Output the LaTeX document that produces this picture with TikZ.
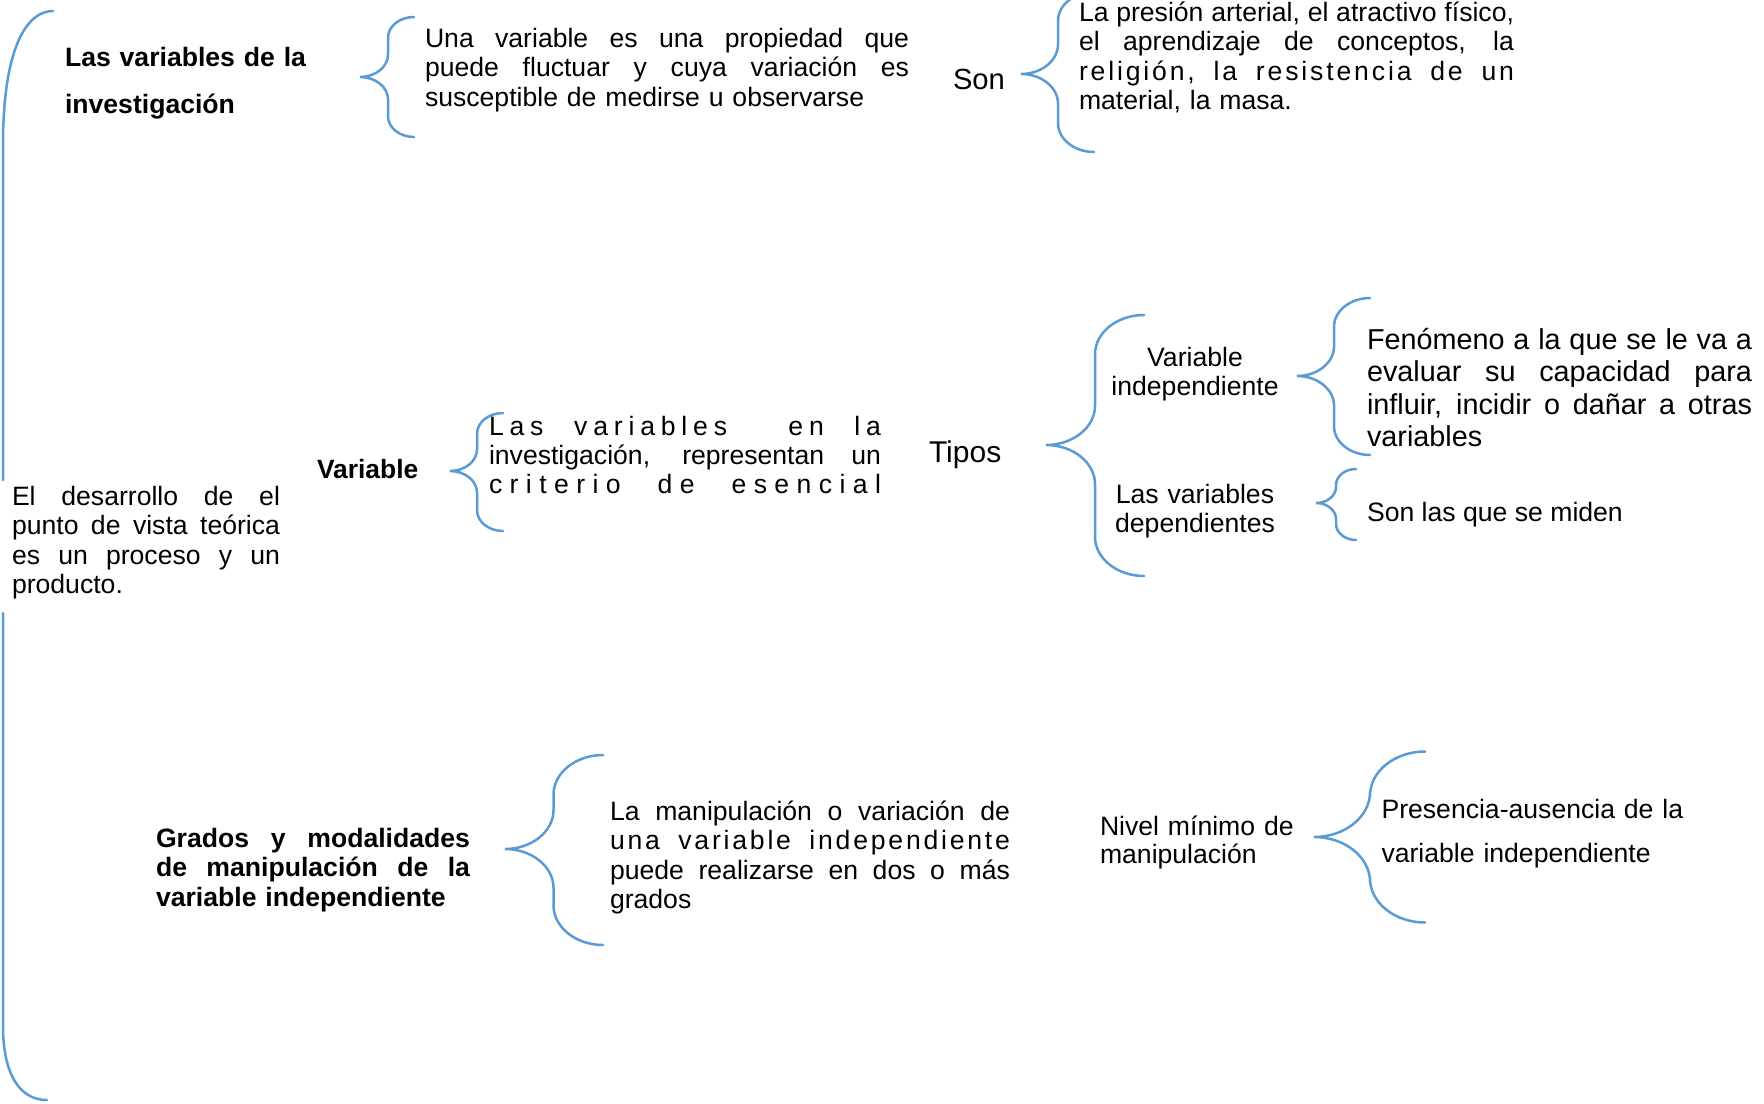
\documentclass[tikz,border=0pt]{standalone}
\usepackage{fontspec}
\setmainfont{Liberation Sans}
\definecolor{braceblue}{RGB}{91,155,213}
\newcommand\jl[1]{\makebox[\linewidth][s]{\spaceskip=.278em plus 1fil\relax #1}}
\newcommand\hf{\hfil}
\newcommand\wg{\hfil\hfil\ \hfil}
% tip x, tip y, vertical x, end x, top y, bottom y
\newcommand\curlyb[6]{%
  \draw[brace] (#4,#5) .. controls ({#3+0.45*(#4-#3)},#5) and (#3,{#5+0.36*(#4-#3)}) .. (#3,{#5+0.8*(#4-#3)})
  -- (#3,{#2-0.8*(#3-#1)}) .. controls (#3,{#2-0.36*(#3-#1)}) and ({#1+0.55*(#3-#1)},#2) .. (#1,#2)
  .. controls ({#1+0.55*(#3-#1)},#2) and (#3,{#2+0.36*(#3-#1)}) .. (#3,{#2+0.8*(#3-#1)})
  -- (#3,{#6-0.8*(#4-#3)}) .. controls (#3,{#6-0.36*(#4-#3)}) and ({#3+0.45*(#4-#3)},#6) .. (#4,#6);}
\begin{document}
\begin{tikzpicture}[x=0.5pt,y=-0.5pt,
  brace/.style={draw=braceblue, line width=1.25pt, line cap=round},
  txt/.style={inner sep=0pt, outer sep=0pt, anchor=base west, font={\fontsize{13.3}{14.75}\selectfont}},
  ctxt/.style={inner sep=0pt, outer sep=0pt, anchor=base, align=center, font={\fontsize{13.3}{14.5}\selectfont}}]
\useasboundingbox[fill=white] (0,0) rectangle (1764,1103);

% big left brace (tip outside the page, middle hidden behind the text)
\draw[brace] (53,11) .. controls (30,11) and (4,40) .. (3,140) -- (3,480);
\draw[brace] (3,613) -- (3,1030) .. controls (4,1075) and (20,1100) .. (47,1100);

\node[txt] (root) at (12,505) [text width=134pt]
  {\jl{El desarrollo de el}\\\jl{punto de vista teórica}\\\jl{es un proceso y un}\\producto.};

% row 1
\node[txt, text width=130pt, font={\fontsize{13.3}{23.5}\selectfont\bfseries}] (t1) at (65,66)
  {Las variables de la\\investigación};
\curlyb{360}{77}{388}{414}{17}{137}
\node[txt, text width=242pt, font={\fontsize{13.3}{14.9}\selectfont}] (d1) at (425,47)
  {\jl{Una variable es una propiedad que}\\\jl{puede fluctuar y cuya variación es}\\susceptible de medirse u observarse};
\node[txt, font={\fontsize{14.6}{16}\selectfont}] (son) at (953,89) {Son};
\curlyb{1021}{74}{1058}{1094}{-8}{152}
\node[txt, text width=217.5pt, font={\fontsize{13.3}{14.65}\selectfont}] (ex) at (1079,21.5)
  {\jl{La presión arterial, el atractivo físico,}\\\jl{el aprendizaje de conceptos, la}\\
   \jl{r\hf e\hf l\hf i\hf g\hf i\hf ó\hf n\hf ,\wg l\hf a\wg r\hf e\hf s\hf i\hf s\hf t\hf e\hf n\hf c\hf i\hf a\wg d\hf e\wg u\hf n}\\
   material, la masa.};

% row 2
\node[txt, font={\fontsize{13.2}{14.5}\selectfont\bfseries}] (t2) at (317,478) {Variable};
\curlyb{450}{471}{477}{503}{413}{531}
\node[txt, text width=196pt, font={\fontsize{13.3}{14.6}\selectfont}] (d2) at (489,435.5)
  {\jl{L\hf a\hf s\wg v\hf a\hf r\hf i\hf a\hf b\hf l\hf e\hf s\wg\wg e\hf n\wg l\hf a}\\
   \jl{investigación, representan un}\\
   \jl{c\hf r\hf i\hf t\hf e\hf r\hf i\hf o\wg d\hf e\wg e\hf s\hf e\hf n\hf c\hf i\hf a\hf l}};
\node[txt, font={\fontsize{15}{16}\selectfont}] (tipos) at (929,462) {Tipos};
\curlyb{1046}{445}{1095}{1144}{315}{576}
\node[ctxt, text width=110pt] (vi) at (1195,366) {Variable\\independiente};
\node[ctxt, text width=110pt] (vd) at (1195,503) {Las variables\\dependientes};
\curlyb{1297}{376}{1334}{1370}{298}{455}
\node[txt, text width=192.5pt, font={\fontsize{14.4}{16.3}\selectfont}] (fen) at (1367,349)
  {\jl{Fenómeno a la que se le va a}\\\jl{evaluar su capacidad para}\\\jl{influir, incidir o dañar a otras}\\variables};
\curlyb{1316}{503}{1336}{1356}{469}{540}
\node[txt] (miden) at (1367,521) {Son las que se miden};

% row 3
\node[txt, text width=157pt, font={\fontsize{13.3}{14.75}\selectfont\bfseries}] (t3) at (156,847)
  {\jl{Grados y modalidades}\\\jl{de manipulación de la}\\variable independiente};
\curlyb{505}{849}{553.5}{603}{755}{945}
\node[txt, text width=200pt] (d3) at (610,820)
  {\jl{La manipulación o variación de}\\
   \jl{u\hf n\hf a\wg v\hf a\hf r\hf i\hf a\hf b\hf l\hf e\wg i\hf n\hf d\hf e\hf p\hf e\hf n\hf d\hf i\hf e\hf n\hf t\hf e}\\
   \jl{puede realizarse en dos o más}\\grados};
\node[txt, text width=110pt, font={\fontsize{13.3}{14}\selectfont}] (nivel) at (1100,835)
  {Nivel mínimo de\\manipulación};
\curlyb{1314}{837}{1370}{1425}{751.5}{922.5}
\node[txt, text width=160pt, font={\fontsize{13.3}{22}\selectfont}] (pres) at (1381.5,818)
  {Presencia-ausencia de la\\variable independiente};
\end{tikzpicture}
\end{document}
